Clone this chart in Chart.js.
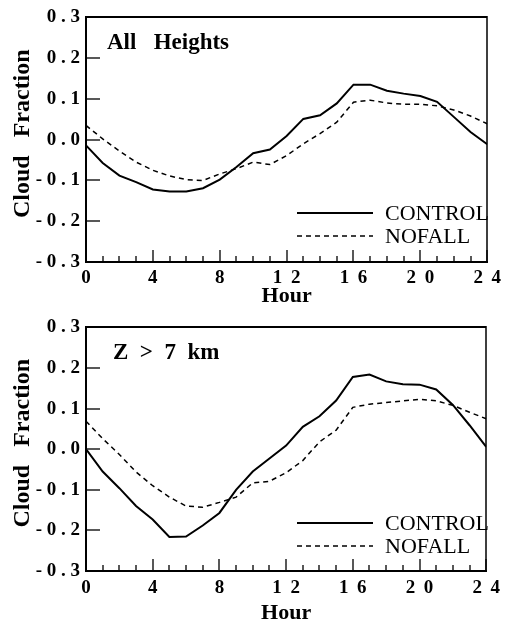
<!DOCTYPE html>
<html>
<head>
<meta charset="utf-8">
<title>Cloud Fraction</title>
<script src="https://cdn.jsdelivr.net/npm/chart.js"></script>
<style>
  html, body { margin: 0; padding: 0; background: #fff; overflow: hidden; }
  canvas { position: absolute; left: 0; }
  #topChart { top: 0; }
  #bottomChart { top: 310px; }
</style>
</head>
<body>
<canvas id="topChart" width="506" height="310"></canvas>
<canvas id="bottomChart" width="506" height="312"></canvas>
<script>
  // values (hourly, 0..24)
  var hours = [0,1,2,3,4,5,6,7,8,9,10,11,12,13,14,15,16,17,18,19,20,21,22,23,24];
  var xTicks = [0, 4, 8, 12, 16, 20, 24];
  var yTicks = [-0.3, -0.2, -0.1, 0, 0.1, 0.2, 0.3];

  var allControl = [-0.014,-0.057,-0.088,-0.104,-0.122,-0.127,-0.127,-0.119,-0.098,-0.067,-0.033,-0.024,
                    0.009,0.051,0.060,0.089,0.135,0.135,0.120,0.113,0.107,0.093,0.056,0.019,-0.011];
  var allNofall  = [0.035,0.002,-0.028,-0.055,-0.075,-0.089,-0.098,-0.100,-0.084,-0.071,-0.055,-0.061,
                    -0.039,-0.010,0.015,0.043,0.092,0.097,0.090,0.087,0.087,0.083,0.073,0.058,0.039];
  var highControl = [0.000,-0.055,-0.096,-0.140,-0.173,-0.216,-0.215,-0.188,-0.157,-0.100,-0.055,-0.023,
                     0.009,0.055,0.081,0.120,0.178,0.184,0.167,0.160,0.159,0.147,0.109,0.059,0.006];
  var highNofall  = [0.069,0.026,-0.013,-0.056,-0.090,-0.118,-0.140,-0.143,-0.131,-0.118,-0.083,-0.079,
                     -0.058,-0.028,0.018,0.047,0.103,0.111,0.115,0.119,0.123,0.119,0.108,0.091,0.075];

  var serif = "'Liberation Serif', 'Times New Roman', serif";

  function points(vals) {
    return hours.map(function(h, i) { return { x: h, y: vals[i] }; });
  }

  function fmtY(v) {
    if (Math.abs(v) < 1e-9) v = 0;
    return v.toFixed(1).split('').join(' ');
  }

  // inward ticks, frame, panel label and legend
  var framePlugin = {
    id: 'frame',
    afterDraw: function(chart) {
      var ctx = chart.ctx, a = chart.chartArea;
      var xs = chart.scales.x, ys = chart.scales.y;
      var o = chart.options.plugins.frame;
      var L = Math.round(a.left), R = Math.round(a.right);
      var T = Math.round(a.top), B = Math.round(a.bottom);
      ctx.save();
      ctx.globalAlpha = 1;
      ctx.setLineDash([]);

      ctx.fillStyle = '#222';
      for (var i = 0; i < hours.length; i++) {
        var px = Math.round(xs.getPixelForValue(hours[i]));
        var len = hours[i] % 4 === 0 ? 12 : 6;
        ctx.fillRect(px - 0.75, B - len, 1.5, len);
      }
      for (var j = 0; j < yTicks.length; j++) {
        var py = Math.round(ys.getPixelForValue(yTicks[j]));
        ctx.fillRect(L, py - 0.75, 14, 1.5);
      }

      ctx.fillStyle = '#000';
      ctx.fillRect(L - 1, T - 1, R - L + 1, 2);     // top
      ctx.fillRect(L - 1, T - 1, 2, B - T + 2);     // left
      ctx.fillRect(L - 1, B - 1, R - L + 2, 2);     // bottom
      ctx.fillRect(R - 0.75, T - 1, 1.5, B - T + 2); // right

      ctx.textBaseline = 'middle';
      ctx.textAlign = 'left';
      ctx.font = 'bold 23px ' + serif;
      ctx.fillText(o.label, L + o.labelX, T + 26);

      ctx.font = '22px ' + serif;
      chart.data.datasets.forEach(function(ds, k) {
        var y = T + 196 + k * 23;
        ctx.save();
        ctx.strokeStyle = ds.borderColor;
        ctx.lineWidth = ds.borderWidth;
        ctx.setLineDash(ds.borderDash || []);
        ctx.beginPath();
        ctx.moveTo(L + 211, y);
        ctx.lineTo(L + 287, y);
        ctx.stroke();
        ctx.restore();
        ctx.fillText(ds.label, L + 299, y + 1);
      });
      ctx.restore();
    }
  };

  function makePanel(id, label, labelX, control, nofall, xAxisH, tickPad, hourPad) {
    var ctx = document.getElementById(id).getContext('2d');
    return new Chart(ctx, {
      type: 'line',
      data: {
        datasets: [
          { label: 'CONTROL', data: points(control), borderColor: '#000', borderWidth: 2,
            pointRadius: 0, tension: 0, fill: false },
          { label: 'NOFALL', data: points(nofall), borderColor: '#000', borderWidth: 1.5,
            borderDash: [5, 4], pointRadius: 0, tension: 0, fill: false }
        ]
      },
      options: {
        responsive: false,
        animation: false,
        devicePixelRatio: 1,
        layout: { padding: { left: 0, right: 14, top: 17, bottom: 0 } },
        plugins: {
          legend: { display: false },
          tooltip: { enabled: false },
          frame: { label: label, labelX: labelX }
        },
        scales: {
          x: {
            type: 'linear', min: 0, max: 24,
            afterBuildTicks: function(s) { s.ticks = xTicks.map(function(v) { return { value: v }; }); },
            afterFit: function(s) { s.height = xAxisH; },
            grid: { display: false, drawTicks: false, tickLength: 0 }, border: { display: false },
            ticks: {
              color: '#000', padding: tickPad, maxRotation: 0, autoSkip: false,
              font: { family: serif, size: 19, weight: 'bold' },
              callback: function(v) { return String(v).split('').join(' \u2009'); }
            },
            title: {
              display: true, text: 'Hour', color: '#000',
              font: { family: serif, size: 22, weight: 'bold', lineHeight: 0.8 },
              padding: { top: 0, bottom: hourPad }
            }
          },
          y: {
            min: -0.3, max: 0.3,
            afterBuildTicks: function(s) { s.ticks = yTicks.map(function(v) { return { value: v }; }); },
            afterFit: function(s) { s.width = 86; },
            grid: { display: false, drawTicks: false, tickLength: 0 }, border: { display: false },
            ticks: {
              color: '#000', padding: 6, autoSkip: false,
              font: { family: serif, size: 19, weight: 'bold' },
              callback: function(v) { return fmtY(v); }
            },
            title: {
              display: true, text: '  Cloud   Fraction', color: '#000',
              font: { family: serif, size: 24, weight: 'bold', lineHeight: 1.2 },
              padding: { top: 8, bottom: 0 }
            }
          }
        }
      },
      plugins: [framePlugin]
    });
  }

  makePanel('topChart', 'All   Heights', 21, allControl, allNofall, 48, 5, 5);
  makePanel('bottomChart', 'Z  >  7  km', 27, highControl, highNofall, 51, 6, 0);
</script>
</body>
</html>
